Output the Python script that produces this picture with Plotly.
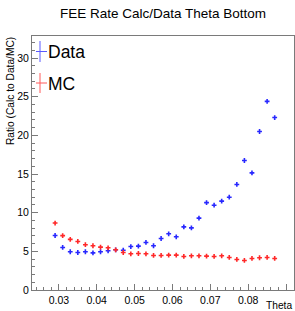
import plotly.graph_objects as go

theta = [0.029, 0.031, 0.033, 0.035, 0.037, 0.039, 0.041, 0.043, 0.045, 0.047,
         0.049, 0.051, 0.053, 0.055, 0.057, 0.059, 0.061, 0.063, 0.065, 0.067,
         0.069, 0.071, 0.073, 0.075, 0.077, 0.079, 0.081, 0.083, 0.085, 0.087]

data_ratio = [7.05, 5.5, 4.95, 4.85, 4.95, 4.8, 4.95, 5.07, 5.2, 5.15,
              5.62, 5.68, 6.15, 5.72, 6.66, 7.27, 6.88, 8.17, 8.04, 9.3,
              11.3, 10.97, 11.5, 12.0, 13.65, 16.75, 15.15, 20.5, 24.4, 22.3]

mc_ratio = [8.66, 7.03, 6.55, 6.28, 5.86, 5.72, 5.55, 5.46, 5.2, 4.85,
            4.68, 4.72, 4.68, 4.47, 4.47, 4.51, 4.51, 4.34, 4.42, 4.42,
            4.38, 4.34, 4.42, 4.21, 3.95, 3.82, 4.08, 4.17, 4.21, 4.08]

x_range = [0.0229, 0.0921]
y_range = [0, 32.85]

FONT = "Liberation Sans, Arial, Helvetica, sans-serif"
W, H = 295, 311
L, R, T, B = 32, 1, 36, 21
PW, PH = W - L - R, H - T - B


def px_x(px):
    return (px - L) / PW


def px_y(py):
    return (H - B - py) / PH


fig = go.Figure()
fig.add_trace(go.Scatter(x=theta, y=data_ratio, mode="markers", name="Data",
                         marker=dict(symbol="cross", size=4, color="rgb(40,40,255)",
                                     line=dict(width=0))))
fig.add_trace(go.Scatter(x=theta, y=mc_ratio, mode="markers", name="MC",
                         marker=dict(symbol="cross", size=4, color="rgb(255,40,40)",
                                     line=dict(width=0))))

axis_common = dict(
    showline=True, linecolor="#7a7a7a", linewidth=1, mirror=True,
    ticks="inside", tickcolor="#7a7a7a", tickwidth=1,
    showgrid=False, zeroline=False,
    tickfont=dict(family=FONT, size=10.5, color="black"),
)

fig.update_xaxes(range=x_range, tick0=0.03, dtick=0.01, ticklen=6,
                 tickformat=".2f",
                 minor=dict(tick0=0.0, dtick=0.002, ticklen=3, ticks="inside",
                            tickcolor="#7a7a7a", showgrid=False),
                 **axis_common)
fig.update_yaxes(range=y_range, tick0=0, dtick=5, ticklen=6,
                 minor=dict(tick0=0, dtick=1, ticklen=3, ticks="inside",
                            tickcolor="#7a7a7a", showgrid=False),
                 **axis_common)

annotations = [
    dict(text="FEE Rate Calc/Data Theta Bottom", x=px_x(163), y=px_y(14),
         xanchor="center", yanchor="middle", font=dict(family=FONT, size=13.5, color="black")),
    dict(text="Ratio (Calc to Data/MC)", x=px_x(10), y=px_y(36), textangle=-90,
         xanchor="center", yanchor="top", font=dict(family=FONT, size=10.2, color="black")),
    dict(text="Theta", x=px_x(293), y=px_y(305), xanchor="right", yanchor="middle",
         font=dict(family=FONT, size=10.2, color="black")),
    dict(text="Data", x=px_x(47), y=px_y(52), xanchor="left", yanchor="middle",
         font=dict(family=FONT, size=17.5, color="black")),
    dict(text="MC", x=px_x(47), y=px_y(84), xanchor="left", yanchor="middle",
         font=dict(family=FONT, size=17.5, color="black")),
]
for a in annotations:
    a.update(xref="paper", yref="paper", showarrow=False, borderpad=0)

shapes = []
for color, yc, y0, y1 in [("rgb(90,90,255)", 51.5, 41, 62), ("rgb(255,90,90)", 83, 73, 93)]:
    shapes.append(dict(type="line", xref="paper", yref="paper",
                       x0=px_x(36), x1=px_x(47), y0=px_y(yc), y1=px_y(yc),
                       line=dict(color=color, width=1)))
    shapes.append(dict(type="line", xref="paper", yref="paper",
                       x0=px_x(40), x1=px_x(40), y0=px_y(y0), y1=px_y(y1),
                       line=dict(color=color, width=1)))

fig.update_layout(
    width=W, height=H,
    margin=dict(l=L, r=R, t=T, b=B, pad=0),
    paper_bgcolor="white", plot_bgcolor="white",
    showlegend=False,
    annotations=annotations, shapes=shapes,
    font=dict(family=FONT),
)

fig.write_html("out.html",
               config={"displayModeBar": False},
               post_script="document.body.style.margin='0';document.body.style.padding='0';document.body.style.overflow='hidden';")
